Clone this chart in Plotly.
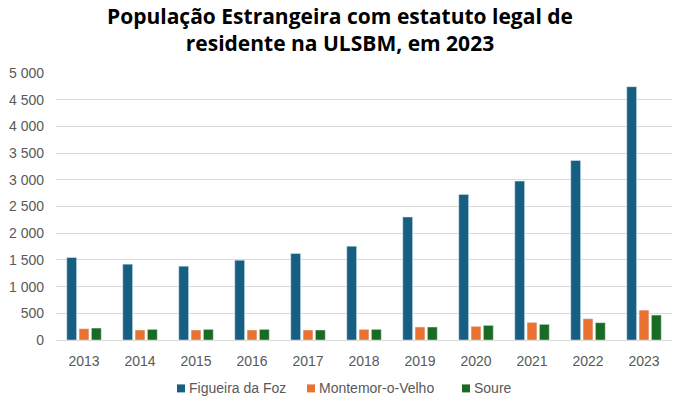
import plotly.graph_objects as go

# Foreign resident population per municipality, 2013-2023
years = ["2013", "2014", "2015", "2016", "2017", "2018", "2019", "2020", "2021", "2022", "2023"]
figueira_da_foz = [1545, 1420, 1382, 1494, 1619, 1756, 2304, 2727, 2976, 3362, 4744]
montemor_o_velho = [211, 187, 187, 187, 187, 199, 243, 255, 330, 398, 560]
soure = [224, 199, 199, 199, 187, 199, 243, 274, 293, 324, 467]

series_names = ["Figueira da Foz", "Montemor-o-Velho", "Soure"]
series_values = [figueira_da_foz, montemor_o_velho, soure]
series_colors = ["#156082", "#E97132", "#196B24"]

tick_values = [0, 500, 1000, 1500, 2000, 2500, 3000, 3500, 4000, 4500, 5000]

title_text = "População Estrangeira com estatuto legal de<br>residente na ULSBM, em 2023"

# page geometry (pixels)
W, H = 673, 401
M_L, M_R, M_T, M_B = 56, 1, 72.5, 61
PLOT_W = W - M_L - M_R
PLOT_H = H - M_T - M_B


def px_x(px):
    return (px - M_L) / PLOT_W


def px_y(py):
    return (H - M_B - py) / PLOT_H


fig = go.Figure()
for name, values, color in zip(series_names, series_values, series_colors):
    fig.add_trace(go.Bar(
        x=years, y=values, name=name, marker_color=color,
        showlegend=False, hoverinfo="x+y+name",
    ))

# legend row: compact square keys followed by the series name
legend_key_left = [177, 307, 462]
legend_row_y = 388.5
key_size = 8
shapes = []
annotations = []
for left, name, color in zip(legend_key_left, series_names, series_colors):
    shapes.append(dict(
        type="rect", xref="paper", yref="paper",
        x0=px_x(left), x1=px_x(left + key_size),
        y0=px_y(legend_row_y + key_size / 2), y1=px_y(legend_row_y - key_size / 2),
        fillcolor=color, line=dict(width=0),
    ))
    annotations.append(dict(
        text=name, xref="paper", yref="paper",
        x=px_x(left + key_size + 2), y=px_y(legend_row_y),
        xanchor="left", yanchor="middle", showarrow=False,
        font=dict(size=14, color="#595959"),
    ))

annotations.append(dict(
    text="<b>" + title_text + "</b>", xref="paper", yref="paper",
    x=px_x(340), y=px_y(-1), xanchor="center", yanchor="top",
    showarrow=False, align="center",
    font=dict(family="Open Sans, sans-serif", size=21, color="#000000"),
))

fig.update_layout(
    width=W, height=H,
    margin=dict(l=M_L, r=M_R, t=M_T, b=M_B),
    paper_bgcolor="white", plot_bgcolor="white",
    barmode="group", bargap=0.34, bargroupgap=0.2,
    separators=", ",
    font=dict(family="Liberation Sans, Arial, sans-serif", size=14, color="#595959"),
    showlegend=False,
    shapes=shapes,
    annotations=annotations,
)
fig.update_xaxes(
    type="category", showline=True, linecolor="#D9D9D9", linewidth=1,
    ticks="", showgrid=False, ticklabelstandoff=8,
)
fig.update_yaxes(
    range=[0, 5000], tickvals=tick_values, tickformat=",d",
    showgrid=True, gridcolor="#D9D9D9", gridwidth=1,
    zeroline=False, showline=False, ticks="", ticklabelstandoff=11,
)

fig.write_html("out.html")
